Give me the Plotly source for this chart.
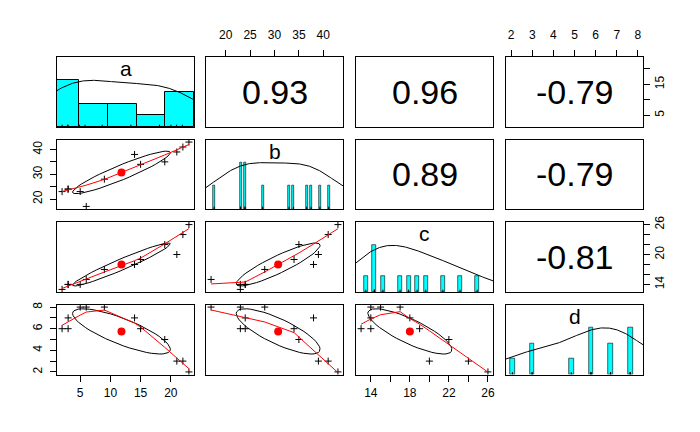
import numpy as np
import plotly.graph_objects as go

# ---------------- data ----------------
var_names = ["a", "b", "c", "d"]
a = [2, 3, 3, 5, 6, 9, 14, 15, 19, 21, 22, 23]
b = [23, 24, 24, 23, 17, 28, 38, 34, 35, 39, 41, 43]
c = [13, 14, 14, 14, 15, 17, 18, 19, 22, 20, 24, 26]
d = [6, 6, 7, 8, 8, 8, 7, 6, 5, 3, 3, 2]
a_hist_breaks = [0, 5, 10, 15, 20, 25]

# axis ticks / labels (outer axes only, as drawn by pairs())
ticks = {
    "a": ([5, 10, 15, 20], ["5", "10", "15", "20"]),
    "b": ([20, 25, 30, 35, 40], ["20", "25", "30", "35", "40"]),
    "c": ([14, 16, 18, 20, 22, 24, 26], ["14", "", "18", "", "22", "", "26"]),
    "d": ([2, 3, 4, 5, 6, 7, 8], ["2", "3", "4", "5", "6", "7", "8"]),
}
ticks_rot = {  # rotated (vertical) labels skip more
    "a": ([5, 10, 15, 20], ["5", "", "15", ""]),
    "b": ([20, 25, 30, 35, 40], ["20", "", "30", "", "40"]),
    "c": ([14, 16, 18, 20, 22, 24, 26], ["14", "", "", "20", "", "", "26"]),
    "d": ([2, 3, 4, 5, 6, 7, 8], ["2", "", "4", "", "6", "", "8"]),
}

data = {"a": np.array(a, float), "b": np.array(b, float),
        "c": np.array(c, float), "d": np.array(d, float)}

FONT = "Liberation Sans, Arial, sans-serif"
CYAN = "#00FFFF"


# ---------------- helpers (R equivalents) ----------------
def r_lowess(x, y, f=2 / 3, nsteps=3):
    x = np.asarray(x, float)
    y = np.asarray(y, float)
    o = np.argsort(x, kind="stable")
    x = x[o]
    y = y[o]
    n = len(x)
    ns = max(2, min(n, int(f * n + 1e-7)))
    delta = 0.01 * (x[-1] - x[0])
    ys = np.zeros(n)
    rw = np.ones(n)
    rng = x[-1] - x[0]

    def lowest(xs, nleft, nright, userw):
        h = max(xs - x[nleft], x[nright] - xs)
        h9 = 0.999 * h
        h1 = 0.001 * h
        w = np.zeros(n)
        asum = 0.0
        j = nleft
        while j < n:
            r = abs(x[j] - xs)
            if r <= h9:
                if r <= h1:
                    w[j] = 1.0
                else:
                    w[j] = (1 - (r / h) ** 3) ** 3
                if userw:
                    w[j] *= rw[j]
                asum += w[j]
            elif x[j] > xs:
                break
            j += 1
        nrt = j - 1
        if asum <= 0:
            return None
        sl = slice(nleft, nrt + 1)
        w[sl] /= asum
        if h > 0:
            am = np.sum(w[sl] * x[sl])
            bb = xs - am
            cc = np.sum(w[sl] * (x[sl] - am) ** 2)
            if np.sqrt(cc) > 0.001 * rng:
                bb /= cc
                w[sl] = w[sl] * (bb * (x[sl] - am) + 1.0)
        return np.sum(w[sl] * y[sl])

    it = 1
    while it <= nsteps + 1:
        nleft = 0
        nright = ns - 1
        last = -1
        i = 0
        while True:
            if nright < n - 1:
                d1 = x[i] - x[nleft]
                d2 = x[nright + 1] - x[i]
                if d1 > d2:
                    nleft += 1
                    nright += 1
                    continue
            v = lowest(x[i], nleft, nright, it > 1)
            ys[i] = v if v is not None else y[i]
            if last < i - 1:
                denom = x[i] - x[last]
                for j in range(last + 1, i):
                    alpha = (x[j] - x[last]) / denom
                    ys[j] = alpha * ys[i] + (1 - alpha) * ys[last]
            last = i
            cut = x[last] + delta
            i = last + 1
            while i < n:
                if x[i] > cut:
                    break
                if x[i] == x[last]:
                    ys[i] = ys[last]
                    last = i
                i += 1
            i = max(last + 1, i - 1)
            if last >= n - 1:
                break
        res = y - ys
        sc = np.sum(np.abs(res)) / n
        if it > nsteps:
            break
        ar = np.sort(np.abs(res))
        m1 = n // 2
        if n % 2 == 0:
            m2 = n - m1 - 1
            cmad = 3 * (ar[m1] + ar[m2])
        else:
            cmad = 6 * ar[m1]
        if cmad < 1e-7 * sc:
            break
        c9 = 0.999 * cmad
        c1 = 0.001 * cmad
        r = np.abs(res)
        rw = np.where(r <= c1, 1.0, np.where(r <= c9, (1 - (r / cmad) ** 2) ** 2, 0.0))
        it += 1
    return x, ys


def ellipse_pts(x, y, segments=51):
    xm, ym = x.mean(), y.mean()
    xs, ysd = x.std(ddof=1), y.std(ddof=1)
    r = np.corrcoef(x, y)[0, 1]
    ang = np.arange(segments + 1) * 2 * np.pi / segments
    uc = np.column_stack([np.cos(ang), np.sin(ang)])
    th = np.sign(r) / np.sqrt(2) if abs(r) > 0 else 1 / np.sqrt(2)
    shape = np.diag([np.sqrt(1 + r), np.sqrt(1 - r)]) @ np.array([[th, th], [-th, th]])
    e = uc @ shape
    return e[:, 0] * xs + xm, e[:, 1] * ysd + ym


def density(x, adjust=1.2, npts=512):
    q1, q3 = np.quantile(x, [0.25, 0.75])
    h = (q3 - q1) / 1.34
    bw = 1.06 * min(x.std(ddof=1), h) * len(x) ** (-0.2) * adjust
    gx = np.linspace(x.min() - 3 * bw, x.max() + 3 * bw, npts)
    gy = np.exp(-0.5 * ((gx[:, None] - x[None, :]) / bw) ** 2).sum(axis=1)
    return gx, gy / gy.max()


def usr(v):
    lo, hi = v.min(), v.max()
    pad = 0.04 * (hi - lo)
    return [lo - pad, hi + pad]


# ---------------- layout geometry ----------------
W, H = 700, 432
OFF = 8  # the page body has an 8px margin
col_px = [(57, 194), (206, 343), (356, 493), (506, 643)]
row_px = [(57, 127), (139.5, 209), (222, 292), (304.5, 374.5)]

fig = go.Figure()
layout = dict(width=W, height=H, autosize=False, margin=dict(l=0, r=0, t=0, b=0, pad=0),
              paper_bgcolor="white", plot_bgcolor="white", showlegend=False,
              font=dict(family=FONT, size=12, color="black"))
annotations = []
TICKFONT = dict(family=FONT, size=12, color="black")

nv = len(var_names)
for i in range(nv):
    for j in range(nv):
        k = i * nv + j + 1
        xa = "xaxis" if k == 1 else f"xaxis{k}"
        ya = "yaxis" if k == 1 else f"yaxis{k}"
        xr = "x" if k == 1 else f"x{k}"
        yr = "y" if k == 1 else f"y{k}"
        vx = data[var_names[j]]
        vy = data[var_names[i]]
        xrange = usr(vx)
        yrange = usr(vy)
        if i == j:
            u = xrange
            xrange = [u[0] - abs(0.05 * u[0]), u[1] + abs(0.05 * u[1])]
            yrange = [0, 1.5]

        base_ax = dict(showgrid=False, zeroline=False, showline=True, mirror=True,
                       linecolor="black", linewidth=1, ticks="", showticklabels=False,
                       fixedrange=True, automargin=False)
        xdom = [(col_px[j][0] - OFF) / W, (col_px[j][1] - OFF) / W]
        ydom = [1 - (row_px[i][1] - OFF) / H, 1 - (row_px[i][0] - OFF) / H]
        xax = dict(base_ax, domain=xdom, range=xrange, anchor=yr)
        yax = dict(base_ax, domain=ydom, range=yrange, anchor=xr)

        # outer axes like R pairs()
        if i == 0 and j % 2 == 1:
            tv, tt = ticks[var_names[j]]
            xax.update(side="top", ticks="outside", ticklen=6, tickcolor="black",
                       tickvals=tv, ticktext=tt, showticklabels=True, tickfont=TICKFONT,
                       ticklabelstandoff=6)
        if i == nv - 1 and j % 2 == 0:
            tv, tt = ticks[var_names[j]]
            xax.update(side="bottom", ticks="outside", ticklen=6, tickcolor="black",
                       tickvals=tv, ticktext=tt, showticklabels=True, tickfont=TICKFONT,
                       ticklabelstandoff=1)
        if j == 0 and i % 2 == 1:
            tv, tt = ticks_rot[var_names[i]]
            yax.update(side="left", ticks="outside", ticklen=6, tickcolor="black",
                       tickvals=tv, ticktext=tt, showticklabels=True, tickangle=-90,
                       tickfont=TICKFONT, ticklabelstandoff=3)
        if j == nv - 1 and i % 2 == 0:
            tv, tt = ticks_rot[var_names[i]]
            yax.update(side="right", ticks="outside", ticklen=6, tickcolor="black",
                       tickvals=tv, ticktext=tt, showticklabels=True, tickangle=-90,
                       tickfont=TICKFONT, ticklabelstandoff=0)
        layout[xa] = xax
        layout[ya] = yax

        if i == j:
            v = vx
            vals, counts = np.unique(v, return_counts=True)
            if len(vals) < 11:
                hw = np.min(np.diff(vals)) * (len(vals) - 1) / 41
                fig.add_trace(go.Bar(x=vals, y=counts / counts.max(), width=2 * hw,
                                     marker=dict(color=CYAN, line=dict(color="black", width=0.6)),
                                     xaxis=xr, yaxis=yr, hoverinfo="skip"))
            else:
                br = np.array(a_hist_breaks, float)
                cnt = np.array([np.sum((v > br[q]) & (v <= br[q + 1])) if q > 0 else
                                np.sum((v >= br[q]) & (v <= br[q + 1]))
                                for q in range(len(br) - 1)], float)
                fig.add_trace(go.Bar(x=(br[:-1] + br[1:]) / 2, y=cnt / cnt.max(),
                                     width=np.diff(br),
                                     marker=dict(color=CYAN, line=dict(color="black", width=1)),
                                     xaxis=xr, yaxis=yr, hoverinfo="skip"))
            gx, gy = density(v)
            fig.add_trace(go.Scatter(x=gx, y=gy, mode="lines",
                                     line=dict(color="black", width=1),
                                     xaxis=xr, yaxis=yr, hoverinfo="skip"))
            # rug
            rx, ry = [], []
            for val in v:
                rx += [val, val, None]
                ry += [0, 0.05, None]
            fig.add_trace(go.Scatter(x=rx, y=ry, mode="lines",
                                     line=dict(color="black", width=1),
                                     xaxis=xr, yaxis=yr, hoverinfo="skip"))
            annotations.append(dict(text=var_names[i], xref=f"{xr} domain", yref=f"{yr} domain",
                                    x=0.5, y=0.83, showarrow=False, xanchor="center",
                                    yanchor="middle",
                                    font=dict(family=FONT, size=21, color="black")))
        elif i < j:
            r = np.corrcoef(vx, vy)[0, 1]
            # invisible trace so the subplot (box + axes) is drawn
            fig.add_trace(go.Scatter(x=[vx.mean()], y=[vy.mean()], mode="markers",
                                     marker=dict(size=1, opacity=0),
                                     xaxis=xr, yaxis=yr, hoverinfo="skip"))
            annotations.append(dict(text=f"{r:.2f}", xref=f"{xr} domain", yref=f"{yr} domain",
                                    x=0.5, y=0.5, showarrow=False, xanchor="center",
                                    yanchor="middle",
                                    font=dict(family=FONT, size=34, color="black")))
        else:
            fig.add_trace(go.Scatter(x=vx, y=vy, mode="markers",
                                     marker=dict(symbol="cross-thin", size=5,
                                                 line=dict(color="black", width=1)),
                                     xaxis=xr, yaxis=yr, hoverinfo="skip"))
            ex, ey = ellipse_pts(vx, vy)
            fig.add_trace(go.Scatter(x=ex, y=ey, mode="lines",
                                     line=dict(color="black", width=1),
                                     xaxis=xr, yaxis=yr, hoverinfo="skip"))
            lx, ly = r_lowess(vx, vy)
            fig.add_trace(go.Scatter(x=lx, y=ly, mode="lines",
                                     line=dict(color="red", width=1),
                                     xaxis=xr, yaxis=yr, hoverinfo="skip"))
            fig.add_trace(go.Scatter(x=[vx.mean()], y=[vy.mean()], mode="markers",
                                     marker=dict(symbol="circle", size=8, color="red"),
                                     xaxis=xr, yaxis=yr, hoverinfo="skip"))

layout["annotations"] = annotations
layout["bargap"] = 0
fig.update_layout(**layout)
fig.write_html("out.html", config={"displayModeBar": False})
